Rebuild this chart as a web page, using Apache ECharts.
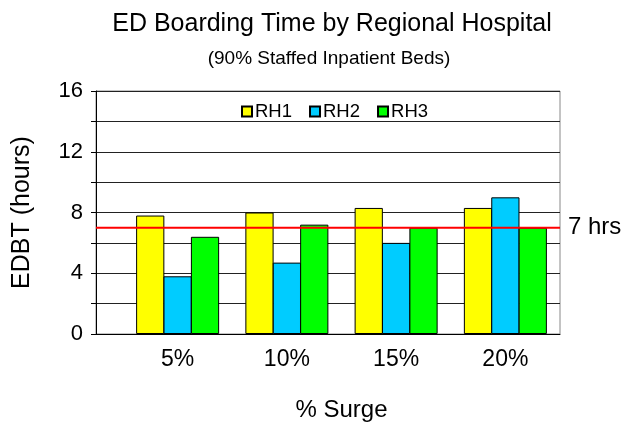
<!DOCTYPE html>
<html>
<head>
<meta charset="utf-8">
<script src="https://cdn.jsdelivr.net/npm/echarts@6/dist/echarts.min.js"></script>
<style>
  html, body { margin: 0; padding: 0; background: #fff; }
  #chart { width: 624px; height: 425px; }
</style>
</head>
<body>
<div id="chart"></div>
<script>
  // data
  const surge = ['5%', '10%', '15%', '20%'];
  const rh1 = [7.8, 8.0, 8.3, 8.3];
  const rh2 = [3.8, 4.7, 6.0, 9.0];
  const rh3 = [6.4, 7.2, 7.0, 7.0];
  const threshold = 7;
  const seriesNames = ['RH1', 'RH2', 'RH3'];
  const seriesColors = ['#ffff00', '#00ccff', '#00ff00'];

  const font = 'Liberation Sans, Arial, sans-serif';
  const chart = echarts.init(document.getElementById('chart'));

  const bar = (name, data, color) => ({
    name: name,
    type: 'bar',
    xAxisIndex: 1,
    yAxisIndex: 1,
    data: data,
    barGap: '-3%',
    barCategoryGap: '24%',
    itemStyle: { color: color, borderColor: '#000', borderWidth: 1 },
    emphasis: { disabled: true },
  });

  const option = {
    animation: false,
    textStyle: { fontFamily: font },
    title: [
      {
        text: 'ED Boarding Time by Regional Hospital',
        left: 327, top: 7, textAlign: 'center',
        textStyle: { fontFamily: font, fontSize: 25, fontWeight: 'normal', color: '#000' },
      },
      {
        text: '(90% Staffed Inpatient Beds)',
        left: 324, top: 44, textAlign: 'center',
        textStyle: { fontFamily: font, fontSize: 19, fontWeight: 'normal', color: '#000' },
      },
    ],
    legend: {
      data: seriesNames,
      left: 236, top: 97,
      icon: 'rect', itemWidth: 10, itemHeight: 10, itemGap: 17,
      textStyle: { fontFamily: font, fontSize: 18.5, color: '#000', padding: [0, 0, 0, -2] },
    },
    grid: [
      { left: 96, right: 64, top: 91, bottom: 91, outerBoundsMode: 'none', show: true, borderColor: '#888', borderWidth: 1 },
      { left: 123, right: 64, top: 91, bottom: 91, outerBoundsMode: 'none' },
    ],
    xAxis: [
      {
        type: 'value', gridIndex: 0, min: 0, max: 1,
        axisLine: { show: true, onZero: false, lineStyle: { color: '#000', width: 1 } },
        axisTick: { show: false }, axisLabel: { show: false }, splitLine: { show: false },
      },
      {
        type: 'category', gridIndex: 1, data: surge,
        axisLine: { show: false }, axisTick: { show: false },
        axisLabel: { fontFamily: font, fontSize: 23, color: '#000', margin: 14 },
        name: '% Surge', nameLocation: 'middle', nameGap: 64,
        nameTextStyle: { fontFamily: font, fontSize: 24, color: '#000' },
      },
    ],
    yAxis: [
      {
        type: 'value', gridIndex: 0, min: 0, max: 16, interval: 2,
        axisLine: { show: true, lineStyle: { color: '#000', width: 1 } },
        axisTick: { show: true, length: 5, lineStyle: { color: '#000' } },
        axisLabel: {
          fontFamily: font, fontSize: 22, color: '#000', margin: 13,
          formatter: (v) => (v % 4 === 0 ? String(v) : ''),
        },
        splitLine: { show: true, lineStyle: { color: '#222', width: 1 } },
        name: 'EDBT (hours)', nameLocation: 'middle', nameGap: 61,
        nameTextStyle: { fontFamily: font, fontSize: 25, color: '#000' },
      },
      {
        type: 'value', gridIndex: 1, min: 0, max: 16, interval: 2, show: false,
      },
    ],
    series: [
      bar(seriesNames[0], rh1, seriesColors[0]),
      bar(seriesNames[1], rh2, seriesColors[1]),
      bar(seriesNames[2], rh3, seriesColors[2]),
      {
        name: 'threshold',
        type: 'line',
        xAxisIndex: 0,
        yAxisIndex: 0,
        data: [[0, threshold], [1, threshold]],
        symbol: 'none',
        lineStyle: { color: '#ff0000', width: 2 },
        endLabel: {
          show: true, formatter: threshold + ' hrs', distance: 8,
          fontFamily: font, fontSize: 24, color: '#000',
        },
        z: 5,
        emphasis: { disabled: true },
      },
    ],
  };

  chart.setOption(option);
</script>
</body>
</html>
